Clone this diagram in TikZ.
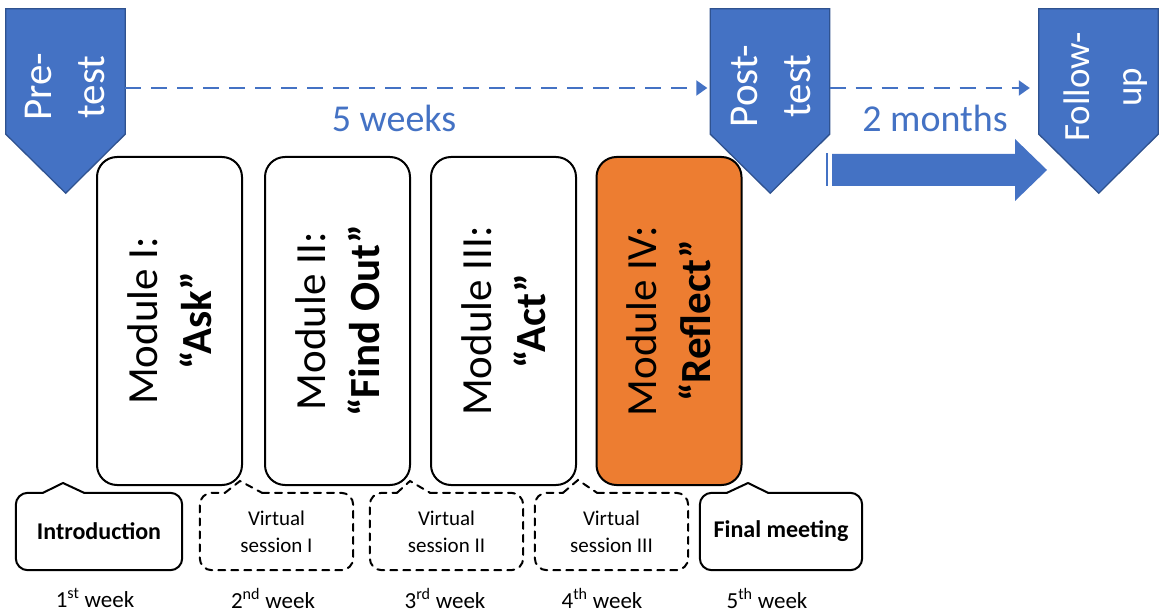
\documentclass[tikz,border=0pt]{standalone}
\usepackage{fontspec}
\setmainfont{Carlito}
\usetikzlibrary{arrows.meta,positioning}
\definecolor{tabblue}{HTML}{4472C4}
\definecolor{tabedge}{HTML}{2F528F}
\definecolor{reflect}{HTML}{ED7D31}

\begin{document}
\begin{tikzpicture}[x=1pt,y=1pt,
  tab/.style={fill=tabblue,draw=tabedge,line width=1.3pt,line join=miter},
  tabbody/.style={minimum width=119pt,minimum height=125pt,inner sep=0pt},
  tabtext/.style={rotate=90,text=white,align=center,inner sep=0pt,font=\fontsize{41}{53}\selectfont},
  interval/.style={draw=tabblue,line width=2pt,dash pattern=on 16pt off 10pt,-{Triangle[length=11pt,width=15pt]}},
  span/.style={text=tabblue,font=\fontsize{38}{46}\selectfont},
  module/.style={draw,fill=white,line width=2pt,rounded corners=20pt,rotate=90,minimum width=328pt,minimum height=145pt,inner sep=0pt,align=center,font=\fontsize{43}{54}\selectfont},
  meet/.style={minimum width=#1,minimum height=77pt,inner sep=0pt,align=center},
  cbox/.style={line width=2pt,line cap=round,rounded corners=12pt},
  vbox/.style={cbox,dash pattern=on 7pt off 6pt},
  week/.style={font=\fontsize{23}{28}\selectfont}]
\useasboundingbox (0,0) rectangle (1169,-612);

% test tabs
\node[tabbody] (pre) at (65.5,-71.5) {};
\node[tabbody] (post) at (770,-71.5) {};
\node[tabbody] (fup) at (1098.5,-71.5) {};
\foreach \t in {pre,post,fup}
  \draw[tab] (\t.north west) -- (\t.north east) -- (\t.south east) -- ++(-59.5,-59) -- (\t.south west) -- cycle;
\node[tabtext] (pre-t) at (65,-87) {Pre-\\test};
\node[tabtext] (post-t) at (771,-86) {Post-\\test};
\node[tabtext,font=\fontsize{37}{52}\selectfont] (fup-t) at (1106,-87) {Follow-\\up};

\draw[interval,shorten >=3pt] (pre.east |- 0,-88) -- (post.west |- 0,-88);
\draw[interval,shorten >=9pt] (post.east |- 0,-88) -- (fup.west |- 0,-88);
\node[span] (wk5) at (394,-118) {5 weeks};
\node[span] (mo2) at (935,-118) {2 months};

\fill[tabblue] (826,-153) rectangle (828,-186);
\fill[tabblue] (832,-154) -- (1015,-154) -- (1015,-139) -- (1047,-170) -- (1015,-201) -- (1015,-186) -- (832,-186) -- cycle;

% modules
\node[module] (m1) at (169.5,-321) {Module I:\\\textbf{``Ask''}};
\node[module] (m2) at (337.5,-321) {Module II:\\\textbf{``Find Out''}};
\node[module] (m3) at (503.5,-321) {Module III:\\\textbf{``Act''}};
\node[module,fill=reflect] (m4) at (669,-321) {Module IV:\\\textbf{``Reflect''}};

% meetings
\node[meet=166pt,font=\bfseries\fontsize{24}{29}\selectfont] (intro) at (99,-531.5) {Introduction};
\node[meet=153pt,font=\fontsize{21}{27}\selectfont] (vs1) at (276.5,-531.5) {Virtual\\session I};
\node[meet=153pt,font=\fontsize{21}{27}\selectfont] (vs2) at (446.5,-531.5) {Virtual\\session II};
\node[meet=153pt,font=\fontsize{21}{27}\selectfont] (vs3) at (611.5,-531.5) {Virtual\\session III};
\node[meet=162pt,font=\bfseries\fontsize{24}{29}\selectfont] (final) at (781,-531.5) {Final meeting};

\foreach \n/\a/\p/\q/\b in {intro/43/63/483/84, final/727/748/483/768} {
  \draw[cbox] (\n.north -| \b,0) -- (\n.north east) -- (\n.south east) -- (\n.south west) -- (\n.north west) -- (\n.north -| \a,0);
  \draw[cbox,sharp corners] (\n.north -| \a,0) -- (\p,-\q) -- (\n.north -| \b,0);
}
\foreach \n/\a/\p/\q/\b in {vs1/225/240/481/262, vs2/397/410/481/430, vs3/563/578/480/597} {
  \draw[vbox] (\n.north -| \b,0) -- (\n.north east) -- (\n.south east) -- (\n.south west) -- (\n.north west) -- (\n.north -| \a,0);
  \draw[vbox,sharp corners] (\n.north -| \a,0) -- (\p,-\q) -- (\n.north -| \b,0);
}

\node[week] (w1) at (95,-598) {1\textsuperscript{st} week};
\node[week] (w2) at (273,-598) {2\textsuperscript{nd} week};
\node[week] (w3) at (445,-598) {3\textsuperscript{rd} week};
\node[week] (w4) at (602,-598) {4\textsuperscript{th} week};
\node[week] (w5) at (767,-598) {5\textsuperscript{th} week};
\end{tikzpicture}
\end{document}
